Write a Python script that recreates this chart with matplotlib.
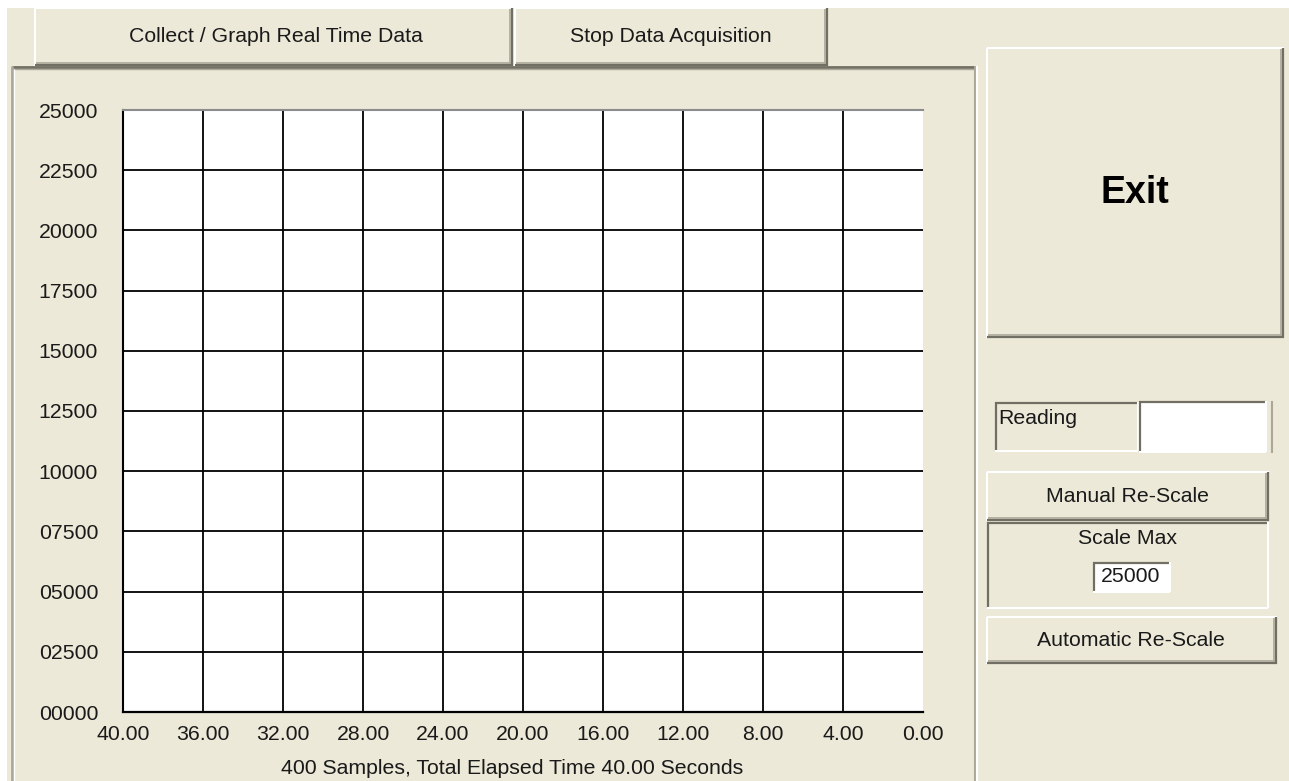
''' real time data acquisition window - empty graph '''

import matplotlib
matplotlib.use('Agg')
import matplotlib.pyplot as plt
from matplotlib.patches import Rectangle

plt.rcParams['font.family'] = ['Liberation Sans', 'DejaVu Sans']

# data
x_ticks = [40, 36, 32, 28, 24, 20, 16, 12, 8, 4, 0]
y_ticks = [0, 2500, 5000, 7500, 10000, 12500, 15000, 17500, 20000, 22500, 25000]
x_title = "400 Samples, Total Elapsed Time 40.00 Seconds"
top_buttons = ["Collect / Graph Real Time Data", "Stop Data Acquisition"]
side_buttons = ["Manual Re-Scale", "Automatic Re-Scale"]
scale_max = 25000

FACE = '#ECE9D8'
SHADOW = '#ACA899'
DARK = '#716F64'
W, H = 1289, 781
FS = 15.3

fig = plt.figure(figsize=(W / 100, H / 100), dpi=100, facecolor='white')

# overlay axes in pixel coords for the window widgets
bg = fig.add_axes([0, 0, 1, 1])
bg.set_xlim(0, W)
bg.set_ylim(H, 0)
bg.axis('off')
bg.add_patch(Rectangle((7, 8), W - 7, H - 8, color=FACE, lw=0))


def raised(x0, y0, x1, y1, face=FACE):
    bg.add_patch(Rectangle((x0, y0), x1 - x0, y1 - y0, color=face, lw=0))
    bg.plot([x0, x1], [y0, y0], color='white', lw=1.5, solid_capstyle='butt')
    bg.plot([x0, x0], [y0, y1], color='white', lw=1.5, solid_capstyle='butt')
    bg.plot([x0, x1], [y1 - 1, y1 - 1], color=DARK, lw=1.6, solid_capstyle='butt')
    bg.plot([x1 - 1, x1 - 1], [y0, y1], color=DARK, lw=1.6, solid_capstyle='butt')
    bg.plot([x0 + 1, x1 - 2], [y1 - 3, y1 - 3], color=SHADOW, lw=1.2, solid_capstyle='butt')
    bg.plot([x1 - 3, x1 - 3], [y0 + 1, y1 - 2], color=SHADOW, lw=1.2, solid_capstyle='butt')


def sunken(x0, y0, x1, y1, face=FACE):
    bg.add_patch(Rectangle((x0, y0), x1 - x0, y1 - y0, color=face, lw=0))
    bg.plot([x0, x1], [y0 + 1, y0 + 1], color=DARK, lw=1.6, solid_capstyle='butt')
    bg.plot([x0 + 1, x0 + 1], [y0, y1], color=DARK, lw=1.6, solid_capstyle='butt')
    bg.plot([x0, x1], [y1, y1], color='white', lw=1.5, solid_capstyle='butt')
    bg.plot([x1, x1], [y0, y1], color='white', lw=1.5, solid_capstyle='butt')


txt = dict(fontsize=FS, color='#1a1a1a', ha='center', va='center')

# top buttons
raised(35, 8, 513, 66)
raised(515, 8, 828, 66)
bg.text(276, 37, top_buttons[0], **txt)
bg.text(671, 37, top_buttons[1], **txt)

# graph frame
bg.plot([12, 976], [67, 67], color=DARK, lw=2, solid_capstyle='butt')
bg.plot([12, 976], [69, 69], color=SHADOW, lw=1, solid_capstyle='butt')
bg.plot([12, 12], [66, H], color=SHADOW, lw=2, solid_capstyle='butt')
bg.plot([14, 14], [69, H], color='white', lw=1, solid_capstyle='butt')
bg.plot([975, 975], [66, H], color=SHADOW, lw=1.5, solid_capstyle='butt')
bg.plot([977, 977], [66, H], color='white', lw=1.5, solid_capstyle='butt')
bg.text(512, 769, x_title, **txt)

# exit button
raised(987, 48, 1284, 338)
bg.text(1135, 193, "Exit", fontsize=27, fontweight='bold', color='black',
        ha='center', va='center')

# reading display
sunken(995, 402, 1138, 451)
bg.text(998, 418, "Reading", fontsize=FS, color='#1a1a1a', ha='left', va='center')
sunken(1139, 401, 1266, 452, face='white')
bg.plot([1272, 1272], [402, 452], color=SHADOW, lw=1.5)

# scale controls
raised(987, 472, 1269, 521)
bg.text(1127, 496, side_buttons[0], **txt)
sunken(987, 522, 1268, 608)
bg.text(1127, 539, "Scale Max", **txt)
sunken(1093, 562, 1170, 592, face='white')
bg.text(1131, 577, "%d" % scale_max, **txt)
raised(987, 617, 1277, 664)
bg.text(1131, 641, side_buttons[1], **txt)

# the graph itself
ax = fig.add_axes([123 / W, 1 - 712 / H, 800 / W, 602 / H])
ax.set_facecolor('white')
ax.set_xlim(x_ticks[0], x_ticks[-1])
ax.set_ylim(y_ticks[0], y_ticks[-1])
ax.vlines(x_ticks[1:-1], y_ticks[0], y_ticks[-1], color='black', lw=1.3)
ax.hlines(y_ticks[1:-1], x_ticks[0], x_ticks[-1], color='black', lw=1.3)
ax.set_xticks(x_ticks)
ax.set_xticklabels(['%.2f' % v for v in x_ticks])
ax.set_yticks(y_ticks)
ax.set_yticklabels(['%05d' % v for v in y_ticks])
ax.tick_params(length=0, labelsize=FS, labelcolor='#1a1a1a')
ax.tick_params(axis='y', pad=18)
ax.tick_params(axis='x', pad=9)
ax.spines['left'].set_color('black')
ax.spines['left'].set_linewidth(1.5)
ax.spines['bottom'].set_color('black')
ax.spines['bottom'].set_linewidth(1.6)
ax.spines['top'].set_color('#8c8c8c')
ax.spines['top'].set_linewidth(1.5)
ax.spines['right'].set_visible(False)

plt.savefig('out.png', dpi=100, facecolor=fig.get_facecolor())
